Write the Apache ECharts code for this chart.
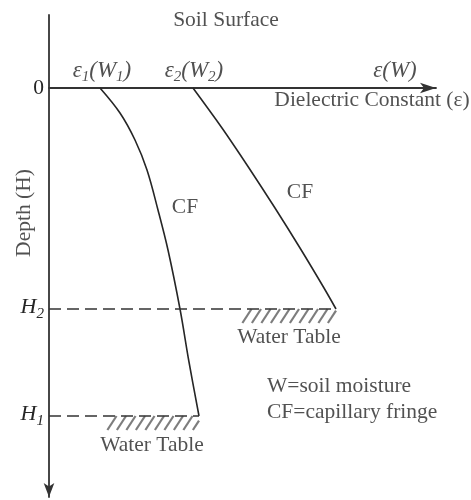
<!DOCTYPE html>
<html><head><meta charset="utf-8">
<script src="https://cdn.jsdelivr.net/npm/echarts@6/dist/echarts.min.js"></script>
<style>html,body{margin:0;padding:0;background:#fff}#c{width:471px;height:500px}</style>
</head><body><div id="c"></div>
<script>
// ---- data (schematic units: dielectric constant ε vs depth H) ----
const curve1Dielectric = [5.1, 7.1, 8.6, 9.8, 10.9, 11.9, 13.1, 14.0, 15.0];
const curve1Depth      = [0, 2.5, 5.2, 8.2, 12.2, 16.2, 22.1, 27.4, 32.8];
const curve2Dielectric = [14.4, 17.3, 20.0, 22.6, 25.1, 27.5, 28.7];
const curve2Depth      = [0, 4, 8, 12, 16, 20, 22.1];
const waterTableDepth  = [22.1, 32.8];       // H2, H1
const waterTableEps    = [28.7, 15.0];       // ε at the water table
const hatchStartEps    = [19.3, 5.8];
const yTickValues      = [0, 22.1, 32.8];
const yTickLabels      = ['0', 'H2', 'H1'];

const FONT = '"Liberation Serif", "Times New Roman", serif';
const INK = '#262626';
const HATCH_DEPTH = 1.4;

function zip(a, b) { return a.map((v, i) => [v, b[i]]); }
function richLabel(s) {
  if (s.length === 2 && s[0] === 'H') return '{h|H}{sub|' + s[1] + '}';
  return '{n|' + s + '}';
}

function renderHatch(params, api) {
  const x0 = api.value(0), x1 = api.value(1), d = api.value(2);
  const a = api.coord([x0, d]), b = api.coord([x1, d]);
  const h = Math.abs(api.size([0, HATCH_DEPTH])[1]);
  const run = h * 0.65, step = 9.5;
  const children = [];
  for (let xs = a[0] - run; xs < b[0]; xs += step) {
    let sx = xs, sy = a[1] + h, ex = xs + run, ey = a[1];
    if (sx < a[0]) { const t = (a[0] - sx) / run; sx = a[0]; sy = a[1] + h - t * h; }
    if (ex > b[0]) { const t = (ex - b[0]) / run; ex = b[0]; ey = a[1] + t * h; }
    if (ex <= sx) continue;
    children.push({ type: 'line', shape: { x1: sx, y1: sy, x2: ex, y2: ey },
      style: { stroke: '#7d7d7d', lineWidth: 2.2 } });
  }
  return { type: 'group', children };
}

const rich = {
  n: { fontFamily: FONT, fontSize: 21.5, color: INK },
  h: { fontFamily: FONT, fontStyle: 'italic', fontSize: 22, color: INK, verticalAlign: 'bottom', padding: [0, 0, 3, 0] },
  e: { fontFamily: FONT, fontStyle: 'italic', fontSize: 23, color: INK, verticalAlign: 'bottom', padding: [0, 0, 3, 0] },
  sub: { fontFamily: FONT, fontStyle: 'italic', fontSize: 15, color: INK, verticalAlign: 'bottom' }
};

function ann(x, y, text, extra) {
  return Object.assign({ value: [x, y], label: Object.assign({ formatter: text }, extra || {}) });
}

const option = {
  animation: false,
  backgroundColor: '#fff',
  grid: { left: 49, top: 15, width: 387, height: 482, containLabel: false },
  xAxis: {
    type: 'value', min: 0, max: 38.7,
    axisLine: { onZero: true, symbol: ['none', 'arrow'], symbolSize: [8, 16],
      lineStyle: { color: '#333', width: 1.8 } },
    axisTick: { show: false }, axisLabel: { show: false }, splitLine: { show: false }
  },
  yAxis: {
    type: 'value', inverse: true, min: -7.3, max: 40.9,
    axisLine: { onZero: false, symbol: ['arrow', 'none'], symbolSize: [8, 14],
      lineStyle: { color: '#333', width: 1.8 } },
    axisTick: { show: false }, splitLine: { show: false },
    axisLabel: {
      show: true, customValues: yTickValues, margin: 5,
      formatter: function (v) {
        const i = yTickValues.findIndex(t => Math.abs(t - v) < 1e-6);
        return i < 0 ? '' : richLabel(yTickLabels[i]);
      },
      rich: rich
    }
  },
  series: [
    { type: 'line', data: zip(curve1Dielectric, curve1Depth), smooth: 0.35, showSymbol: false,
      lineStyle: { color: INK, width: 1.6 }, z: 3, silent: true },
    { type: 'line', data: zip(curve2Dielectric, curve2Depth), smooth: 0.3, showSymbol: false,
      lineStyle: { color: INK, width: 1.6 }, z: 3, silent: true },
    { type: 'line', data: [[0, waterTableDepth[0]], [waterTableEps[0], waterTableDepth[0]]], showSymbol: false,
      lineStyle: { color: '#333', width: 1.4, type: [12, 6] }, silent: true },
    { type: 'line', data: [[0, waterTableDepth[1]], [waterTableEps[1], waterTableDepth[1]]], showSymbol: false,
      lineStyle: { color: '#333', width: 1.4, type: [12, 6] }, silent: true },
    { type: 'custom', renderItem: renderHatch, silent: true,
      data: waterTableDepth.map((d, i) => [hatchStartEps[i], waterTableEps[i], d]) },
    { type: 'scatter', symbolSize: 0, clip: false, silent: true,
      label: { show: true, position: 'inside', fontFamily: FONT, fontSize: 21.5, color: INK, rich: rich },
      data: [
        ann(17.7, -6.8, 'Soil Surface'),
        ann(5.3, -1.6, '{e|ε}{sub|1}{e|(W}{sub|1}{e|)}'),
        ann(14.5, -1.6, '{e|ε}{sub|2}{e|(W}{sub|2}{e|)}'),
        ann(34.6, -1.6, '{e|ε(W)}'),
        ann(32.3, 1.2, 'Dielectric Constant (ε)'),
        ann(13.6, 11.9, 'CF'),
        ann(25.1, 10.4, 'CF'),
        ann(10.3, 35.7, 'Water Table'),
        ann(24.0, 24.9, 'Water Table'),
        ann(21.8, 29.8, 'W=soil moisture', { align: 'left' }),
        ann(21.8, 32.4, 'CF=capillary fringe', { align: 'left' }),
        ann(-2.5, 12.5, 'Depth (H)', { rotate: 90 })
      ] }
  ]
};
const chart = echarts.init(document.getElementById('c'));
chart.setOption(option);
</script></body></html>
